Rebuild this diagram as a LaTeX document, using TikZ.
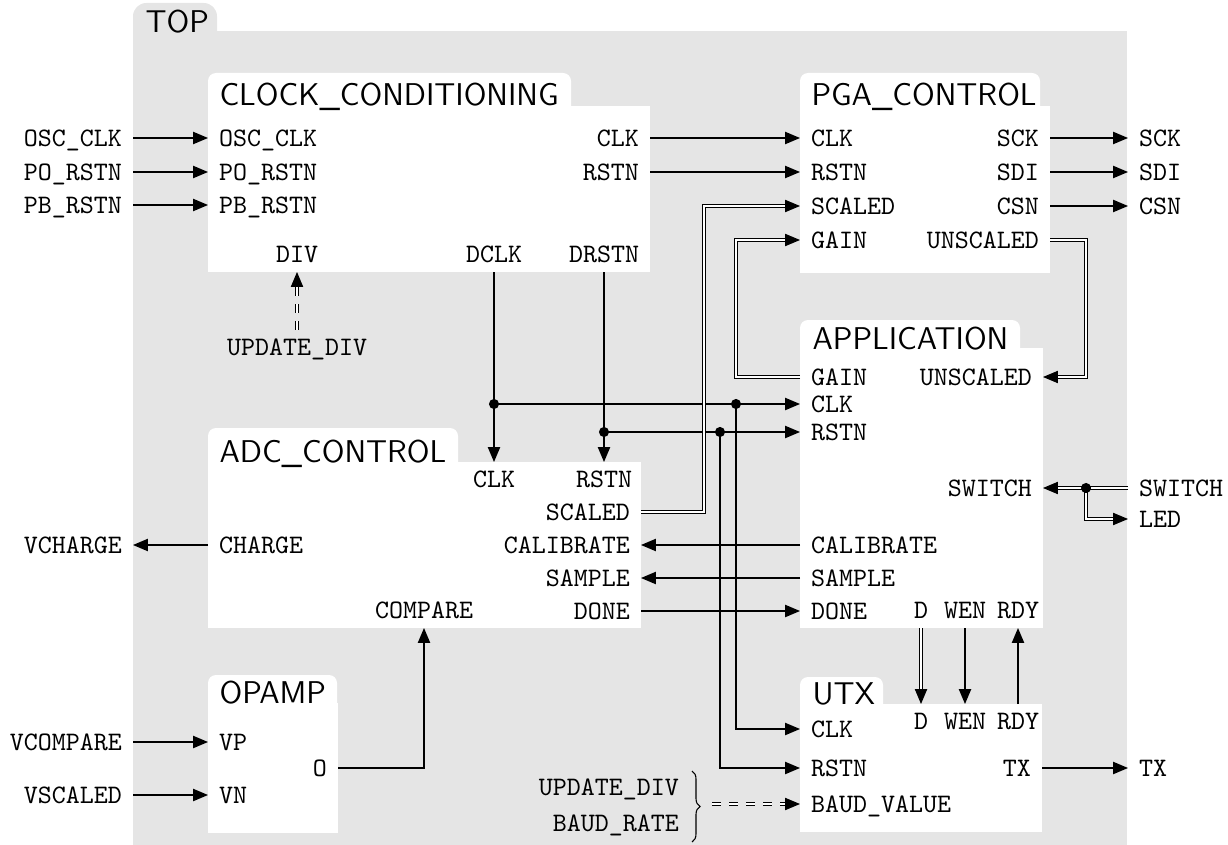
\documentclass[tikz,border=0pt]{standalone}
\usepackage{xcolor}
\usepackage{tikz}
\usetikzlibrary{arrows.meta,decorations.pathreplacing}

\definecolor{topgray}{HTML}{E5E5E5}

\tikzset{
  sig/.style={line width=0.5pt},
  bus/.style={line width=0.4pt,double,double distance=0.8pt},
  dashbus/.style={bus,dash pattern=on 3.2pt off 3.2pt},
  port/.style={font=\ttfamily,inner xsep=4pt,inner ysep=3.2pt,text height=6.1pt,text depth=0pt},
  blocktitle/.style={font=\sffamily\fontsize{11.8}{14}\selectfont,inner sep=0pt},
}

% white block with a rounded title tab: left, tab top, tab right, body top, right, bottom
\newcommand{\blockshape}[6]{%
  \fill[white,rounded corners=3pt] (#1,#2) rectangle (#3,#4+20);
  \fill[white] (#1,#4) rectangle (#5,#6);
}

\begin{document}
\begin{tikzpicture}[x=0.375pt,y=-0.375pt,>={Triangle[length=5.6pt,width=4.6pt]}]
  \useasboundingbox (0,0) rectangle (1228,845);

  % TOP
  \fill[topgray,rounded corners=5pt] (133,3) rectangle (217,60);
  \fill[topgray] (133,31) rectangle (1127,845);
  \node[blocktitle,anchor=base west] (top) at (145,33) {TOP};

  % blocks
  \blockshape{208}{73}{571}{106}{650}{272}
  \node[blocktitle,anchor=base west] (cc) at (219,106) {CLOCK\_CONDITIONING};
  \blockshape{800}{73}{1040}{106}{1050}{273}
  \node[blocktitle,anchor=base west] (pga) at (811,106) {PGA\_CONTROL};
  \blockshape{800}{320}{1020}{348}{1043}{628}
  \node[blocktitle,anchor=base west] (app) at (812,349) {APPLICATION};
  \blockshape{208}{428}{458}{462}{641}{628}
  \node[blocktitle,anchor=base west] (adc) at (219,462) {ADC\_CONTROL};
  \blockshape{208}{675}{337}{703}{338}{833}
  \node[blocktitle,anchor=base west] (opamp) at (219,703) {OPAMP};
  \blockshape{800}{677}{883}{704}{1042}{832}
  \node[blocktitle,anchor=base west] (utx) at (812,704) {UTX};

  % CLOCK_CONDITIONING ports
  \node[port,anchor=west] (cc-osc) at (208,138) {OSC\_CLK};
  \node[port,anchor=west] (cc-po) at (208,172) {PO\_RSTN};
  \node[port,anchor=west] (cc-pb) at (208,205) {PB\_RSTN};
  \node[port,anchor=east] (cc-clk) at (650,138) {CLK};
  \node[port,anchor=east] (cc-rstn) at (650,172) {RSTN};
  \node[port,anchor=south] (cc-div) at (297,272) {DIV};
  \node[port,anchor=south] (cc-dclk) at (494,272) {DCLK};
  \node[port,anchor=south] (cc-drstn) at (604,272) {DRSTN};

  % PGA_CONTROL ports
  \node[port,anchor=west] (pga-clk) at (800,138) {CLK};
  \node[port,anchor=west] (pga-rstn) at (800,172) {RSTN};
  \node[port,anchor=west] (pga-scaled) at (800,206) {SCALED};
  \node[port,anchor=west] (pga-gain) at (800,240) {GAIN};
  \node[port,anchor=east] (pga-sck) at (1050,138) {SCK};
  \node[port,anchor=east] (pga-sdi) at (1050,172) {SDI};
  \node[port,anchor=east] (pga-csn) at (1050,206) {CSN};
  \node[port,anchor=east] (pga-unscaled) at (1050,240) {UNSCALED};

  % APPLICATION ports
  \node[port,anchor=west] (app-gain) at (800,377) {GAIN};
  \node[port,anchor=west] (app-clk) at (800,404) {CLK};
  \node[port,anchor=west] (app-rstn) at (800,432) {RSTN};
  \node[port,anchor=west] (app-cal) at (800,545) {CALIBRATE};
  \node[port,anchor=west] (app-sample) at (800,578) {SAMPLE};
  \node[port,anchor=west] (app-done) at (800,611) {DONE};
  \node[port,anchor=east] (app-unscaled) at (1043,377) {UNSCALED};
  \node[port,anchor=east] (app-switch) at (1043,488) {SWITCH};
  \node[port,anchor=south] (app-d) at (921,628) {D};
  \node[port,anchor=south] (app-wen) at (965,628) {WEN};
  \node[port,anchor=south] (app-rdy) at (1018,628) {RDY};

  % ADC_CONTROL ports
  \node[port,anchor=north] (adc-clk) at (494,462) {CLK};
  \node[port,anchor=north] (adc-rstn) at (604,462) {RSTN};
  \node[port,anchor=east] (adc-scaled) at (641,512) {SCALED};
  \node[port,anchor=east] (adc-cal) at (641,545) {CALIBRATE};
  \node[port,anchor=east] (adc-sample) at (641,578) {SAMPLE};
  \node[port,anchor=east] (adc-done) at (641,611) {DONE};
  \node[port,anchor=west] (adc-charge) at (208,545) {CHARGE};
  \node[port,anchor=south] (adc-compare) at (424,628) {COMPARE};

  % OPAMP ports
  \node[port,anchor=west] (op-vp) at (208,742) {VP};
  \node[port,anchor=west] (op-vn) at (208,795) {VN};
  \node[port,anchor=east] (op-o) at (338,768) {O};

  % UTX ports
  \node[port,anchor=north] (utx-d) at (921,704) {D};
  \node[port,anchor=north] (utx-wen) at (965,704) {WEN};
  \node[port,anchor=north] (utx-rdy) at (1018,704) {RDY};
  \node[port,anchor=west] (utx-clk) at (800,729) {CLK};
  \node[port,anchor=west] (utx-rstn) at (800,768) {RSTN};
  \node[port,anchor=west] (utx-baud) at (800,804) {BAUD\_VALUE};
  \node[port,anchor=east] (utx-tx) at (1042,768) {TX};

  % top level pins
  \node[port,anchor=east] (x-osc) at (133,138) {OSC\_CLK};
  \node[port,anchor=east] (x-po) at (133,172) {PO\_RSTN};
  \node[port,anchor=east] (x-pb) at (133,205) {PB\_RSTN};
  \node[port,anchor=east] (x-vcharge) at (133,545) {VCHARGE};
  \node[port,anchor=east] (x-vcomp) at (133,742) {VCOMPARE};
  \node[port,anchor=east] (x-vscaled) at (133,795) {VSCALED};
  \node[port,anchor=west] (x-sck) at (1128,138) {SCK};
  \node[port,anchor=west] (x-sdi) at (1128,172) {SDI};
  \node[port,anchor=west] (x-csn) at (1128,206) {CSN};
  \node[port,anchor=west] (x-switch) at (1128,488) {SWITCH};
  \node[port,anchor=west] (x-led) at (1128,519) {LED};
  \node[port,anchor=west] (x-tx) at (1128,768) {TX};
  \node[port] (x-upddiv) at (297,347) {UPDATE\_DIV};
  \node[port,anchor=east] (x-upd) at (690,787) {UPDATE\_DIV};
  \node[port,anchor=east] (x-baud) at (690,823) {BAUD\_RATE};

  % junctions
  \coordinate (j-dclk) at (494,404);
  \coordinate (j-drstn) at (604,432);
  \coordinate (j-uclk) at (736,404);
  \coordinate (j-urstn) at (720,432);
  \coordinate (j-sw) at (1086,488);
  \coordinate (brc) at (712,804);

  % wires
  \draw[sig,->] (x-osc) -- (cc-osc);
  \draw[sig,->] (x-po) -- (cc-po);
  \draw[sig,->] (x-pb) -- (cc-pb);
  \draw[sig,->] (cc-clk) -- (pga-clk);
  \draw[sig,->] (cc-rstn) -- (pga-rstn);
  \draw[sig,->] (pga-sck) -- (x-sck);
  \draw[sig,->] (pga-sdi) -- (x-sdi);
  \draw[sig,->] (pga-csn) -- (x-csn);
  \draw[sig,->] (cc-dclk) -- (adc-clk);
  \draw[sig,->] (cc-drstn) -- (adc-rstn);
  \draw[sig,->] (j-dclk) -- (app-clk);
  \draw[sig,->] (j-drstn) -- (app-rstn);
  \draw[sig,->] (j-uclk) |- (utx-clk);
  \draw[sig,->] (j-urstn) |- (utx-rstn);
  \draw[sig,->] (app-cal) -- (adc-cal);
  \draw[sig,->] (app-sample) -- (adc-sample);
  \draw[sig,->] (adc-done) -- (app-done);
  \draw[sig,->] (adc-charge) -- (x-vcharge);
  \draw[sig,->] (x-vcomp) -- (op-vp);
  \draw[sig,->] (x-vscaled) -- (op-vn);
  \draw[sig,->] (op-o) -| (adc-compare);
  \draw[sig,->] (app-wen) -- (utx-wen);
  \draw[sig,->] (utx-rdy) -- (app-rdy);
  \draw[sig,->] (utx-tx) -- (x-tx);

  % buses
  \draw[bus,->] (adc-scaled.east) -- ++(63,0) |- (pga-scaled);
  \draw[bus,->] (app-gain.west) -- ++(-64,0) |- (pga-gain);
  \draw[bus,->] (pga-unscaled.east) -- ++(36,0) |- (app-unscaled);
  \draw[bus,->] (x-switch) -- (app-switch);
  \draw[bus,->] (j-sw) |- (x-led);
  \draw[bus,->] (app-d) -- (utx-d);
  \draw[dashbus,->] (x-upddiv) -- (cc-div);
  \draw[decorate,decoration={brace,amplitude=3pt}] (692,771) -- (692,842);
  \draw[dashbus,->] (brc) -- (utx-baud);

  \foreach \j in {j-dclk,j-drstn,j-uclk,j-urstn,j-sw}
    \fill (\j) circle (1.9pt);
\end{tikzpicture}
\end{document}
